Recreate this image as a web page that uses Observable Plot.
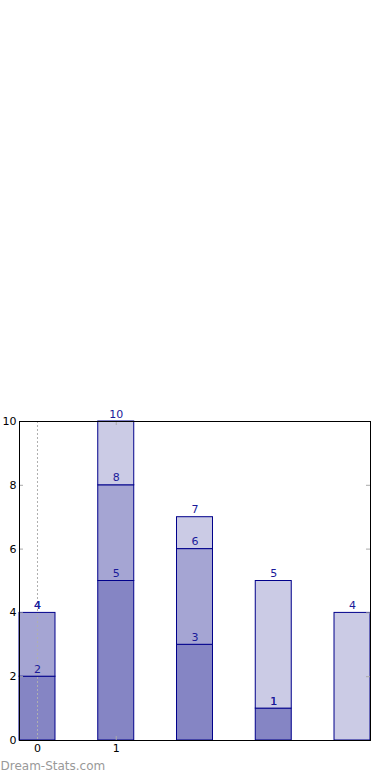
<!DOCTYPE html>
<html>
<head>
<meta charset="utf-8">
<script src="https://cdn.jsdelivr.net/npm/d3@7"></script>
<script src="https://cdn.jsdelivr.net/npm/@observablehq/plot@0.6"></script>
<style>
  html, body { margin: 0; padding: 0; background: #fff; }
  #chart svg { display: block; }
</style>
</head>
<body>
<div id="chart"></div>
<script>
const categories = [0, 1, 2, 3, 4];
const seriesA = [2, 5, 3, 1, 0];
const seriesB = [2, 3, 3, 0, 0];
const seriesC = [0, 2, 1, 4, 4];
const seriesNames = ["A", "B", "C"];
const seriesColors = ["#8585c4", "#a5a5d3", "#cbcbe5"];
const yTicks = [0, 2, 4, 6, 8, 10];
const xTicks = [0, 1];
const watermark = "Dream-Stats.com";

const halfWidth = 0.2285;
const allSeries = [seriesA, seriesB, seriesC];
const rows = [];
categories.forEach((c, i) => {
  let base = 0;
  allSeries.forEach((s, k) => {
    rows.push({x: c, name: seriesNames[k], y1: base, y2: base + s[i], top: base + s[i]});
    base += s[i];
  });
});
const labelRows = rows.filter(r => r.top > 0);

const xDomain = [categories[0] - halfWidth, categories[categories.length - 1] + halfWidth];
const tickLen = 4 / 78.75;
const tickLenY = 4 / 31.9;

const chart = Plot.plot({
  width: 390,
  height: 780,
  marginTop: 421,
  marginBottom: 40,
  marginLeft: 19,
  marginRight: 20,
  style: {fontFamily: "DejaVu Sans", fontSize: "11px", background: "#fff"},
  x: {type: "linear", domain: xDomain},
  y: {domain: [0, 10]},
  color: {domain: seriesNames, range: seriesColors},
  marks: [
    Plot.rect(rows, {
      x1: d => d.x - halfWidth, x2: d => d.x + halfWidth,
      y1: "y1", y2: "y2", fill: "name", stroke: "#00008b", strokeWidth: 1
    }),
    Plot.ruleX([0], {stroke: "#b0b0b0", strokeDasharray: "2,2", strokeWidth: 1}),
    Plot.ruleX(xTicks.slice(1), {y1: 10, y2: 10 - tickLenY, stroke: "#aaa"}),
    Plot.ruleX(xTicks.slice(1), {y1: 0, y2: tickLenY, stroke: "#aaa"}),
    Plot.ruleY(yTicks, {x1: xDomain[0], x2: xDomain[0] + tickLen, stroke: "#aaa"}),
    Plot.ruleY(yTicks, {x1: xDomain[1], x2: xDomain[1] - tickLen, stroke: "#aaa"}),
    Plot.text(labelRows, {x: "x", y: "top", text: d => String(d.top), dy: -7.5, fill: "#1a1a9a", fontSize: 11}),
    Plot.frame({stroke: "black", strokeWidth: 1}),
    Plot.axisY(yTicks, {tickSize: 0, tickPadding: 3, fill: "black", fontSize: 11}),
    Plot.axisX(xTicks, {tickSize: 0, tickPadding: 4, fill: "black", fontSize: 11, label: null}),
    Plot.text([watermark], {frameAnchor: "bottom-left", dx: -19, dy: 29, fill: "#999", fontSize: 12, textAnchor: "start"})
  ]
});
document.getElementById("chart").appendChild(chart);
</script>
</body>
</html>
